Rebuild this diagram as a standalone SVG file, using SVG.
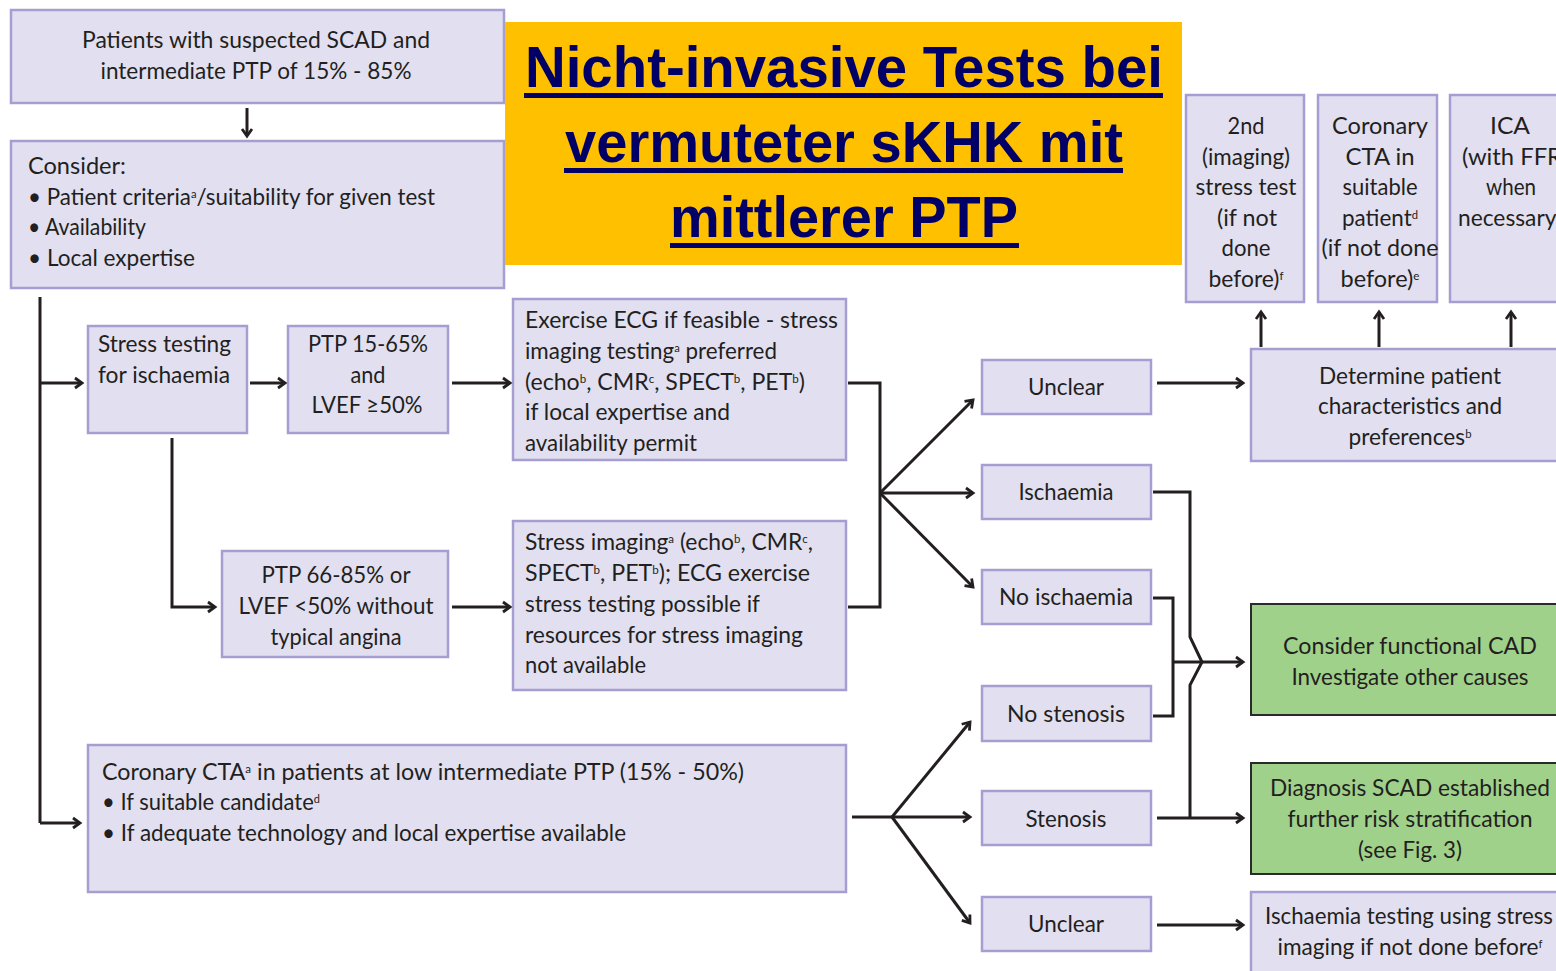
<svg xmlns="http://www.w3.org/2000/svg" width="1556" height="971" viewBox="0 0 1556 971">
<defs>
<style>
.box{fill:#E1DFF0;stroke:#A69ED3;stroke-width:2.5}
.green{fill:#A0D18B;stroke:#2A2A2A;stroke-width:2}
.t{font-family:Lato,"Open Sans","Liberation Sans",sans-serif;font-size:24px;fill:#231F20}
.c{text-anchor:middle}
.sup{font-size:12px}
.title{font-family:"Liberation Sans",Arial,sans-serif;font-weight:bold;font-size:58px;fill:#000066;text-anchor:middle}
.conn{fill:none;stroke:#231F20;stroke-width:3;stroke-linejoin:miter}
.arr{marker-end:url(#ah)}
</style>
<marker id="ah" markerUnits="userSpaceOnUse" markerWidth="14" markerHeight="14" refX="10" refY="7" orient="auto">
<path d="M3,2 L10,7 L3,12" fill="none" stroke="#231F20" stroke-width="2.8"/>
</marker>
</defs>
<rect width="1556" height="971" fill="#FFFFFF"/>

<g id="patients">
<rect class="box" x="11" y="10" width="493" height="93"/>
<text class="t c" x="256" y="48" textLength="348" lengthAdjust="spacingAndGlyphs">Patients with suspected SCAD and</text>
<text class="t c" x="256" y="79" textLength="311" lengthAdjust="spacingAndGlyphs">intermediate PTP of 15% - 85%</text>
</g>

<g id="consider">
<rect class="box" x="11" y="141" width="493" height="147"/>
<text class="t" x="28" y="174" textLength="98" lengthAdjust="spacingAndGlyphs">Consider:</text>
<text class="t" x="28" y="205" textLength="407" lengthAdjust="spacingAndGlyphs">• Patient criteria<tspan class="sup" baseline-shift="super">a</tspan>/suitability for given test</text>
<text class="t" x="28" y="235" textLength="118" lengthAdjust="spacingAndGlyphs">• Availability</text>
<text class="t" x="28" y="266" textLength="167" lengthAdjust="spacingAndGlyphs">• Local expertise</text>
</g>

<g id="title">
<rect x="505" y="22" width="677" height="243" fill="#FFC000"/>
<text class="title" x="844" y="87" textLength="638" lengthAdjust="spacingAndGlyphs">Nicht-invasive Tests bei</text>
<rect x="524" y="93" width="639" height="5" fill="#000066"/>
<text class="title" x="844" y="162" textLength="558" lengthAdjust="spacingAndGlyphs">vermuteter sKHK mit</text>
<rect x="564" y="168" width="559" height="5" fill="#000066"/>
<text class="title" x="844" y="237" textLength="348" lengthAdjust="spacingAndGlyphs">mittlerer PTP</text>
<rect x="670" y="243" width="349" height="5" fill="#000066"/>
</g>

<g id="stress-testing">
<rect class="box" x="88" y="326" width="159" height="107"/>
<text class="t" x="98" y="352" textLength="133" lengthAdjust="spacingAndGlyphs">Stress testing</text>
<text class="t" x="98" y="383" textLength="132" lengthAdjust="spacingAndGlyphs">for ischaemia</text>
</g>

<g id="ptp-15-65">
<rect class="box" x="288" y="326" width="160" height="107"/>
<text class="t c" x="368" y="352" textLength="120" lengthAdjust="spacingAndGlyphs">PTP 15-65%</text>
<text class="t c" x="368" y="383" textLength="35" lengthAdjust="spacingAndGlyphs">and</text>
<text class="t c" x="367" y="413" textLength="111" lengthAdjust="spacingAndGlyphs">LVEF ≥50%</text>
</g>

<g id="exercise-ecg">
<rect class="box" x="513" y="299" width="333" height="161"/>
<text class="t" x="525" y="328" textLength="313" lengthAdjust="spacingAndGlyphs">Exercise ECG if feasible - stress</text>
<text class="t" x="525" y="359" textLength="252" lengthAdjust="spacingAndGlyphs">imaging testing<tspan class="sup" baseline-shift="super">a</tspan> preferred</text>
<text class="t" x="525" y="390" textLength="280" lengthAdjust="spacingAndGlyphs">(echo<tspan class="sup" baseline-shift="super">b</tspan>, CMR<tspan class="sup" baseline-shift="super">c</tspan>, SPECT<tspan class="sup" baseline-shift="super">b</tspan>, PET<tspan class="sup" baseline-shift="super">b</tspan>)</text>
<text class="t" x="525" y="420" textLength="205" lengthAdjust="spacingAndGlyphs">if local expertise and</text>
<text class="t" x="525" y="451" textLength="172" lengthAdjust="spacingAndGlyphs">availability permit</text>
</g>

<g id="ptp-66-85">
<rect class="box" x="222" y="551" width="226" height="106"/>
<text class="t c" x="336" y="583" textLength="149" lengthAdjust="spacingAndGlyphs">PTP 66-85% or</text>
<text class="t c" x="336" y="614" textLength="195" lengthAdjust="spacingAndGlyphs">LVEF &lt;50% without</text>
<text class="t c" x="336" y="645" textLength="131" lengthAdjust="spacingAndGlyphs">typical angina</text>
</g>

<g id="stress-imaging">
<rect class="box" x="513" y="521" width="333" height="169"/>
<text class="t" x="525" y="550" textLength="288" lengthAdjust="spacingAndGlyphs">Stress imaging<tspan class="sup" baseline-shift="super">a</tspan> (echo<tspan class="sup" baseline-shift="super">b</tspan>, CMR<tspan class="sup" baseline-shift="super">c</tspan>,</text>
<text class="t" x="525" y="581" textLength="285" lengthAdjust="spacingAndGlyphs">SPECT<tspan class="sup" baseline-shift="super">b</tspan>, PET<tspan class="sup" baseline-shift="super">b</tspan>); ECG exercise</text>
<text class="t" x="525" y="612" textLength="235" lengthAdjust="spacingAndGlyphs">stress testing possible if</text>
<text class="t" x="525" y="643" textLength="278" lengthAdjust="spacingAndGlyphs">resources for stress imaging</text>
<text class="t" x="525" y="673" textLength="121" lengthAdjust="spacingAndGlyphs">not available</text>
</g>

<g id="coronary-cta">
<rect class="box" x="88" y="745" width="758" height="147"/>
<text class="t" x="102" y="780" textLength="642" lengthAdjust="spacingAndGlyphs">Coronary CTA<tspan class="sup" baseline-shift="super">a</tspan> in patients at low intermediate PTP (15% - 50%)</text>
<text class="t" x="102" y="810" textLength="218" lengthAdjust="spacingAndGlyphs">• If suitable candidate<tspan class="sup" baseline-shift="super">d</tspan></text>
<text class="t" x="102" y="841" textLength="524" lengthAdjust="spacingAndGlyphs">• If adequate technology and local expertise available</text>
</g>

<g id="unclear-1">
<rect class="box" x="982" y="360" width="169" height="54"/>
<text class="t c" x="1066" y="395" textLength="76" lengthAdjust="spacingAndGlyphs">Unclear</text>
</g>
<g id="ischaemia">
<rect class="box" x="982" y="465" width="169" height="54"/>
<text class="t c" x="1066" y="500" textLength="95" lengthAdjust="spacingAndGlyphs">Ischaemia</text>
</g>
<g id="no-ischaemia">
<rect class="box" x="982" y="570" width="169" height="54"/>
<text class="t c" x="1066" y="605" textLength="134" lengthAdjust="spacingAndGlyphs">No ischaemia</text>
</g>
<g id="no-stenosis">
<rect class="box" x="982" y="686" width="169" height="55"/>
<text class="t c" x="1066" y="722" textLength="118" lengthAdjust="spacingAndGlyphs">No stenosis</text>
</g>
<g id="stenosis">
<rect class="box" x="982" y="791" width="169" height="54"/>
<text class="t c" x="1066" y="827" textLength="81" lengthAdjust="spacingAndGlyphs">Stenosis</text>
</g>
<g id="unclear-2">
<rect class="box" x="982" y="897" width="169" height="54"/>
<text class="t c" x="1066" y="932" textLength="76" lengthAdjust="spacingAndGlyphs">Unclear</text>
</g>

<g id="second-stress-test">
<rect class="box" x="1186" y="95" width="118" height="207"/>
<text class="t c" x="1246" y="134" textLength="37" lengthAdjust="spacingAndGlyphs">2nd</text>
<text class="t c" x="1246" y="165" textLength="88" lengthAdjust="spacingAndGlyphs">(imaging)</text>
<text class="t c" x="1246" y="195" textLength="101" lengthAdjust="spacingAndGlyphs">stress test</text>
<text class="t c" x="1247" y="226" textLength="60" lengthAdjust="spacingAndGlyphs">(if not</text>
<text class="t c" x="1246" y="256" textLength="49" lengthAdjust="spacingAndGlyphs">done</text>
<text class="t c" x="1246" y="287" textLength="75" lengthAdjust="spacingAndGlyphs">before)<tspan class="sup" baseline-shift="super">f</tspan></text>
</g>

<g id="coronary-cta-suitable">
<rect class="box" x="1318" y="95" width="119" height="207"/>
<text class="t c" x="1380" y="134" textLength="96" lengthAdjust="spacingAndGlyphs">Coronary</text>
<text class="t c" x="1380" y="165" textLength="69" lengthAdjust="spacingAndGlyphs">CTA in</text>
<text class="t c" x="1380" y="195" textLength="75" lengthAdjust="spacingAndGlyphs">suitable</text>
<text class="t c" x="1380" y="226" textLength="76" lengthAdjust="spacingAndGlyphs">patient<tspan class="sup" baseline-shift="super">d</tspan></text>
<text class="t c" x="1380" y="256" textLength="117" lengthAdjust="spacingAndGlyphs">(if not done</text>
<text class="t c" x="1380" y="287" textLength="79" lengthAdjust="spacingAndGlyphs">before)<tspan class="sup" baseline-shift="super">e</tspan></text>
</g>

<g id="ica">
<rect class="box" x="1450" y="95" width="120" height="207"/>
<text class="t c" x="1510" y="134" textLength="40" lengthAdjust="spacingAndGlyphs">ICA</text>
<text class="t" x="1462" y="165" textLength="100" lengthAdjust="spacingAndGlyphs">(with FFR</text>
<text class="t c" x="1511" y="195" textLength="50" lengthAdjust="spacingAndGlyphs">when</text>
<text class="t" x="1458" y="226" textLength="104" lengthAdjust="spacingAndGlyphs">necessary)</text>
</g>

<g id="determine">
<rect class="box" x="1251" y="349" width="320" height="112"/>
<text class="t c" x="1410" y="384" textLength="182" lengthAdjust="spacingAndGlyphs">Determine patient</text>
<text class="t c" x="1410" y="414" textLength="184" lengthAdjust="spacingAndGlyphs">characteristics and</text>
<text class="t c" x="1410" y="445" textLength="123" lengthAdjust="spacingAndGlyphs">preferences<tspan class="sup" baseline-shift="super">b</tspan></text>
</g>

<g id="functional-cad">
<rect class="green" x="1251" y="604" width="320" height="111"/>
<text class="t c" x="1410" y="654" textLength="254" lengthAdjust="spacingAndGlyphs">Consider functional CAD</text>
<text class="t c" x="1410" y="685" textLength="237" lengthAdjust="spacingAndGlyphs">Investigate other causes</text>
</g>

<g id="diagnosis-scad">
<rect class="green" x="1251" y="763" width="320" height="111"/>
<text class="t c" x="1410" y="796" textLength="280" lengthAdjust="spacingAndGlyphs">Diagnosis SCAD established</text>
<text class="t c" x="1410" y="827" textLength="245" lengthAdjust="spacingAndGlyphs">further risk stratification</text>
<text class="t c" x="1410" y="858" textLength="104" lengthAdjust="spacingAndGlyphs">(see Fig. 3)</text>
</g>

<g id="ischaemia-testing">
<rect class="box" x="1251" y="892" width="320" height="100"/>
<text class="t c" x="1409" y="924" textLength="288" lengthAdjust="spacingAndGlyphs">Ischaemia testing using stress</text>
<text class="t c" x="1410" y="955" textLength="265" lengthAdjust="spacingAndGlyphs">imaging if not done before<tspan class="sup" baseline-shift="super">f</tspan></text>
</g>

<g id="connectors">
<path class="conn arr" d="M247,108 V136"/>
<path class="conn" d="M40,297 V823"/>
<path class="conn arr" d="M40,383 H82"/>
<path class="conn arr" d="M40,823 H80"/>
<path class="conn arr" d="M250,383 H285"/>
<path class="conn arr" d="M452,383 H510"/>
<path class="conn arr" d="M172,438 V607 H215"/>
<path class="conn arr" d="M452,607 H510"/>
<path class="conn" d="M848,383 H880 V607 H848"/>
<path class="conn arr" d="M880,493 L973,400"/>
<path class="conn arr" d="M880,493 H973"/>
<path class="conn arr" d="M880,493 L973,587"/>
<path class="conn arr" d="M1157,383 H1243"/>
<path class="conn arr" d="M1261,347 V312"/>
<path class="conn arr" d="M1379,347 V312"/>
<path class="conn arr" d="M1511,347 V312"/>
<path class="conn" d="M1153,492 H1190 V637 L1202,662 L1190,685 V818"/>
<path class="conn" d="M1153,598 H1173 V716 H1153"/>
<path class="conn arr" d="M1173,662 H1243"/>
<path class="conn arr" d="M1157,818 H1243"/>
<path class="conn arr" d="M1157,925 H1243"/>
<path class="conn" d="M852,817 H892"/>
<path class="conn arr" d="M892,817 L970,722"/>
<path class="conn arr" d="M892,817 H970"/>
<path class="conn arr" d="M892,817 L970,923"/>
</g>
</svg>
